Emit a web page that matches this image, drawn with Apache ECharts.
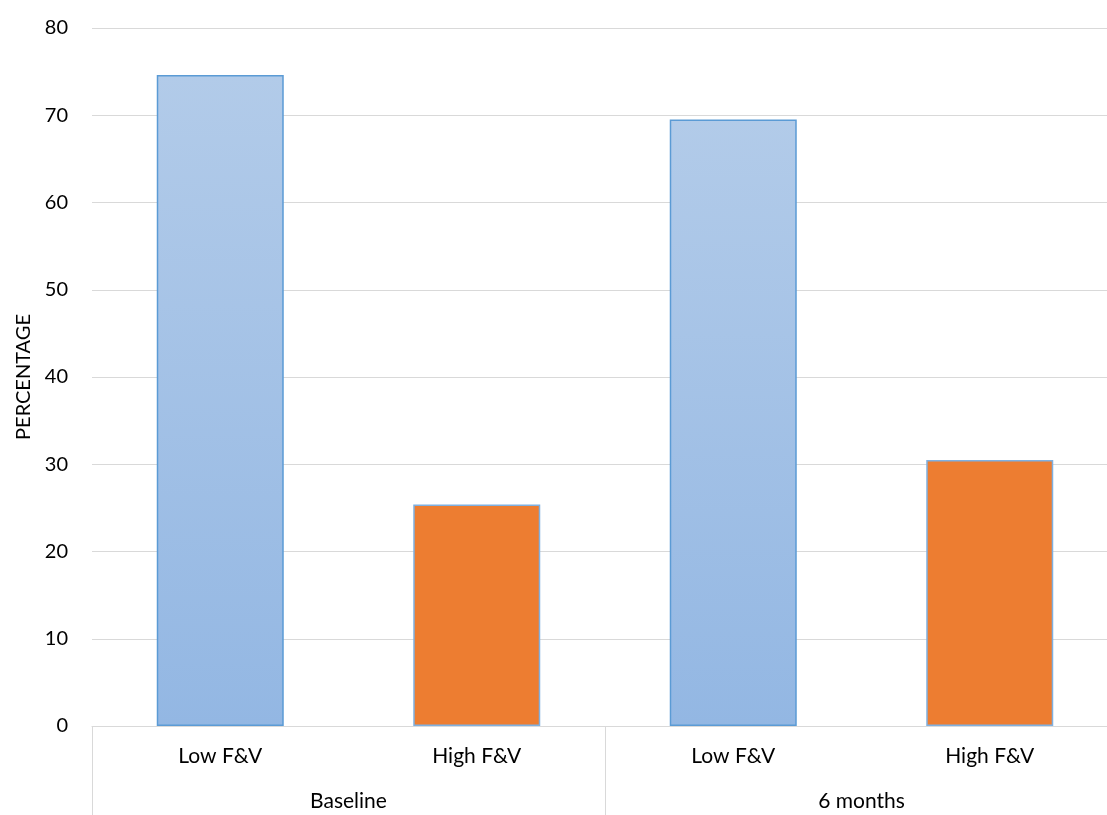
<!DOCTYPE html>
<html>
<head>
<meta charset="utf-8">
<script src="https://cdn.jsdelivr.net/npm/echarts@6/dist/echarts.min.js"></script>
<style>
  html, body { margin: 0; padding: 0; background: #fff; overflow: hidden; }
  #chart { width: 1107px; height: 815px; }
</style>
</head>
<body>
<div id="chart"></div>
<script>
// Share of participants by fruit & vegetable intake, at two time points
const groups = ['Baseline', '6 months'];
const intakeLevels = ['Low F&V', 'High F&V'];
const lowFV = [74.6, 69.5];
const highFV = [25.4, 30.5];
const yTicks = { min: 0, max: 80, step: 10 };

const FONT = 'Lato, "Open Sans", sans-serif';
const GRID_COLOR = '#d9d9d9';

const blueStyle = {
  color: new echarts.graphic.LinearGradient(0, 0, 0, 1, [
    { offset: 0, color: '#b2cbe9' },
    { offset: 1, color: '#93b7e3' }
  ]),
  borderColor: '#5b9bd5',
  borderWidth: 1.5
};
const orangeStyle = {
  color: '#ed7d31',
  borderColor: '#7fb0e0',
  borderWidth: 1.5
};

// one category per bar, grouped under the time point
const categories = [];
const barData = [];
groups.forEach((g, i) => {
  categories.push(intakeLevels[0]);
  barData.push({ value: lowFV[i], itemStyle: blueStyle });
  categories.push(intakeLevels[1]);
  barData.push({ value: highFV[i], itemStyle: orangeStyle });
});

const chart = echarts.init(document.getElementById('chart'));
chart.setOption({
  animation: false,
  backgroundColor: '#fff',
  // plot area runs a little past the right edge of the canvas
  grid: {
    left: 92, width: 1026, top: 28, height: 698,
    containLabel: false,
    outerBoundsMode: 'none'
  },
  xAxis: [
    {
      type: 'category',
      data: categories,
      axisLine: { lineStyle: { color: GRID_COLOR, width: 1 } },
      axisTick: { show: false },
      axisLabel: { color: '#000', fontFamily: FONT, fontSize: 21, margin: 20, interval: 0 }
    },
    {
      type: 'category',
      data: groups,
      position: 'bottom',
      axisLine: { show: false },
      axisTick: { show: true, length: 90, interval: 0, lineStyle: { color: GRID_COLOR, width: 1 } },
      axisLabel: { color: '#000', fontFamily: FONT, fontSize: 21, margin: 65, interval: 0 },
      splitLine: { show: false }
    }
  ],
  yAxis: {
    type: 'value',
    min: yTicks.min,
    max: yTicks.max,
    interval: yTicks.step,
    name: 'PERCENTAGE',
    nameLocation: 'middle',
    nameGap: 58,
    nameTextStyle: { color: '#000', fontFamily: FONT, fontSize: 20 },
    axisLine: { show: false },
    axisTick: { show: false },
    axisLabel: { color: '#000', fontFamily: FONT, fontSize: 20, margin: 24 },
    splitLine: { lineStyle: { color: GRID_COLOR, width: 1 } }
  },
  series: [
    {
      type: 'bar',
      xAxisIndex: 0,
      barWidth: 127,
      data: barData
    }
  ]
});
</script>
</body>
</html>
